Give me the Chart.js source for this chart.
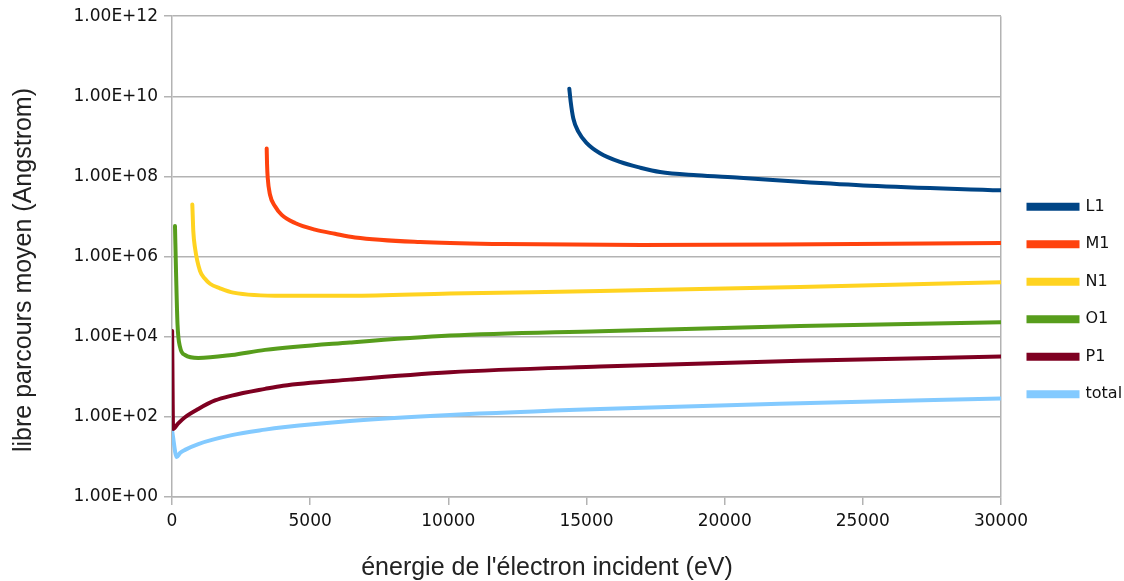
<!DOCTYPE html>
<html>
<head>
<meta charset="utf-8">
<script src="https://cdn.jsdelivr.net/npm/chart.js@4.4.1/dist/chart.umd.min.js"></script>
<style>
  html, body { margin: 0; padding: 0; background: #fff; }
  #wrap { width: 1124px; height: 581px; }
</style>
</head>
<body>
<div id="wrap"><canvas id="c" width="1124" height="581"></canvas></div>
<script>
// energie (eV) / libre parcours moyen (Angstrom)
const l1Energy = [14378, 14429, 14523, 14704, 15008, 15489, 16213, 16937, 17660, 19000, 20550, 22700, 25250, 30000];
const l1Path   = [1.55e10, 7.2e9, 2.8e9, 1.32e9, 6.8e8, 3.8e8, 2.3e8, 1.66e8, 1.29e8, 1.07e8, 9.3e7, 7.4e7, 5.9e7, 4.5e7];

const m1Energy = [3427, 3440, 3463, 3547, 3728, 3970, 4451, 5175, 5899, 6623, 8980, 12000, 17000, 22000, 30000];
const m1Path   = [5.0e8, 2.0e8, 9.3e7, 3.5e7, 1.8e7, 1.1e7, 6.9e6, 4.7e6, 3.7e6, 3.0e6, 2.3e6, 2.05e6, 1.95e6, 2.0e6, 2.2e6];

const n1Energy = [735, 749, 771, 832, 1013, 1194, 1375, 1737, 2219, 4028, 6440, 10060, 15490, 22730, 30000];
const n1Path   = [2.0e7, 1.1e7, 4.3e6, 1.66e6, 4.4e5, 2.8e5, 2.1e5, 1.62e5, 1.26e5, 1.05e5, 1.05e5, 1.2e5, 1.38e5, 1.74e5, 2.3e5];

const o1Energy = [108, 150, 200, 290, 470, 952, 2160, 3366, 6440, 10060, 15490, 22730, 30000];
const o1Path   = [5.8e6, 3.2e5, 2.0e4, 5.6e3, 3.5e3, 2.95e3, 3.5e3, 4.7e3, 7.2e3, 1.07e4, 1.38e4, 1.86e4, 2.3e4];

const p1Energy = [5, 40, 217, 470, 952, 1556, 2160, 3366, 4017, 6440, 10060, 15490, 22730, 30000];
const p1Path   = [1.4e4, 50, 68, 98, 158, 257, 339, 500, 600, 850, 1300, 1800, 2500, 3200];

const totalEnergy = [10, 170, 290, 470, 952, 2160, 3366, 4017, 6440, 10060, 15490, 22730, 30000];
const totalPath   = [42, 10, 12.5, 15, 21, 35, 48, 55, 79, 112, 158, 219, 288];

const yTickExponents = [0, 2, 4, 6, 8, 10, 12];
const xTicks = [0, 5000, 10000, 15000, 20000, 25000, 30000];

const xTitle = "énergie de l'électron incident (eV)";
const yTitle = 'libre parcours moyen (Angstrom)';

const series = [
  { label: 'L1', x: l1Energy, y: l1Path, color: '#004586' },
  { label: 'M1', x: m1Energy, y: m1Path, color: '#ff420e' },
  { label: 'N1', x: n1Energy, y: n1Path, color: '#ffd320' },
  { label: 'O1', x: o1Energy, y: o1Path, color: '#579d1c' },
  { label: 'P1', x: p1Energy, y: p1Path, color: '#7e0021' },
  { label: 'total', x: totalEnergy, y: totalPath, color: '#83caff' },
];

function toPoints(xs, ys) {
  return xs.map((x, i) => ({ x: x, y: ys[i] }));
}

const SMALL = 'DejaVu Sans, Verdana, sans-serif';
const BIG = 'Liberation Sans, Arial, sans-serif';
const GRID = '#b3b3b3';

// nudge the legend block to where the original puts it
const legendNudge = {
  id: 'legendNudge',
  afterLayout(chart) {
    const lg = chart.legend;
    lg.left += 6; lg.right += 6;
    lg.top += 3; lg.bottom += 3;
  },
};

// axis titles sit off-centre in the original, so draw them by hand
const axisTitles = {
  id: 'axisTitles',
  afterDraw(chart) {
    const ctx = chart.ctx;
    ctx.save();
    ctx.fillStyle = '#222';
    ctx.font = '25px ' + BIG;
    ctx.textAlign = 'center';
    ctx.textBaseline = 'middle';
    ctx.fillText(xTitle, 547, 568);
    ctx.translate(24, 270);
    ctx.rotate(-Math.PI / 2);
    ctx.fillText(yTitle, 0, 0);
    ctx.restore();
  },
};

new Chart(document.getElementById('c'), {
  type: 'line',
  data: {
    datasets: series.map(s => ({
      label: s.label,
      data: toPoints(s.x, s.y),
      borderColor: s.color,
      backgroundColor: s.color,
      borderWidth: 4,
      pointRadius: 0,
      cubicInterpolationMode: 'monotone',
      borderCapStyle: 'round',
      fill: false,
    })),
  },
  plugins: [legendNudge, axisTitles],
  options: {
    responsive: false,
    animation: false,
    layout: { padding: { top: 14, right: 8, bottom: 0, left: 8 } },
    plugins: {
      legend: {
        position: 'right',
        maxWidth: 115,
        labels: {
          font: { family: SMALL, size: 16 },
          color: '#111',
          boxWidth: 49,
          boxHeight: 4,
          padding: 21.5,
        },
      },
      tooltip: { enabled: false },
    },
    scales: {
      x: {
        type: 'linear',
        min: 0,
        max: 30000,
        afterBuildTicks: scale => { scale.ticks = xTicks.map(v => ({ value: v })); },
        afterFit: scale => { scale.height = 84; },
        ticks: {
          font: { family: SMALL, size: 17 },
          color: '#111',
          padding: 6,
          maxRotation: 0,
          callback: v => String(v),
        },
        grid: {
          color: ctx => (ctx.tick && ctx.tick.value === 30000 ? GRID : 'rgba(0,0,0,0)'),
          tickColor: GRID,
          tickLength: 8,
          lineWidth: 1.5,
        },
        border: { color: GRID, width: 1.5 },
      },
      y: {
        type: 'logarithmic',
        min: 1,
        max: 1e12,
        afterBuildTicks: scale => { scale.ticks = yTickExponents.map(e => ({ value: Math.pow(10, e) })); },
        afterFit: scale => { scale.width = 164; },
        ticks: {
          font: { family: SMALL, size: 17 },
          color: '#111',
          padding: 6,
          callback: v => {
            const e = Math.round(Math.log10(v));
            return '1.00E+' + (e < 10 ? '0' + e : String(e));
          },
        },
        grid: { color: GRID, tickColor: GRID, tickLength: 8, lineWidth: 1.5 },
        border: { color: GRID, width: 1.5 },
      },
    },
  },
});
</script>
</body>
</html>
